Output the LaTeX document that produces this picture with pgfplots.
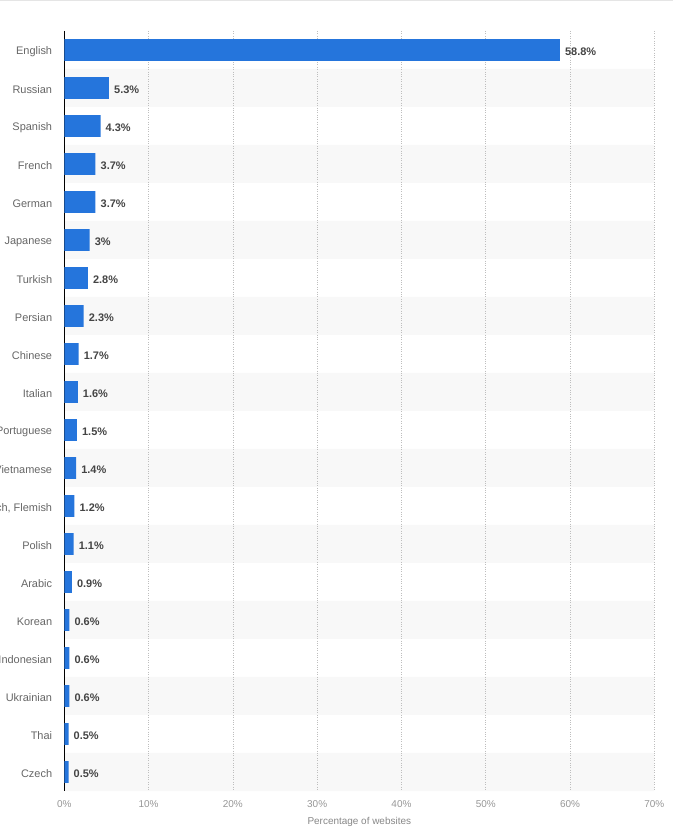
\documentclass[border=0pt]{standalone}
\usepackage{fontspec}
\setmainfont{Liberation Sans}
\usepackage{pgfplots}
\usepackage{pgfplotstable}
\pgfplotsset{compat=1.18}

\definecolor{barblue}{RGB}{37,117,220}
\definecolor{bandgray}{RGB}{248,248,248}
\definecolor{catgray}{RGB}{102,102,102}
\definecolor{valgray}{RGB}{68,68,68}
\definecolor{tickgray}{RGB}{150,150,150}
\definecolor{gridgray}{RGB}{190,190,190}

% share of websites by content language
\pgfplotstableread{
idx val
0 58.8
1 5.3
2 4.3
3 3.7
4 3.7
5 3.0
6 2.8
7 2.3
8 1.7
9 1.6
10 1.5
11 1.4
12 1.2
13 1.1
14 0.9
15 0.6
16 0.6
17 0.6
18 0.5
19 0.5
}\langdata

% alternating row bands
\pgfplotstableread{
idx val
1 70
3 70
5 70
7 70
9 70
11 70
13 70
15 70
17 70
19 70
}\bands

\begin{document}
\begin{tikzpicture}
\begin{axis}[
  set layers,
  scale only axis,
  width=590bp, height=760bp,
  xbar, bar shift=0pt,
  xmin=0, xmax=70,
  ymin=-0.5, ymax=19.5,
  y dir=reverse,
  axis lines=left,
  axis line style={-},
  x axis line style={draw=none},
  y axis line style={draw=black, line width=1.2bp},
  major tick length=0pt,
  xtick={0,10,...,70},
  ytick={0,...,19},
  yticklabels={English,Russian,Spanish,French,German,Japanese,Turkish,Persian,Chinese,Italian,Portuguese,Vietnamese,{Dutch, Flemish},Polish,Arabic,Korean,Indonesian,Ukrainian,Thai,Czech},
  /pgf/number format/assume math mode=true,
  xticklabel={\pgfmathprintnumber{\tick}\%},
  xmajorgrids,
  grid style={gridgray, dotted, line width=0.7bp},
  yticklabel style={font=\fontsize{11}{13}\selectfont, text=catgray, inner sep=0pt, anchor=east, xshift=-12bp, yshift=-2bp},
  xticklabel style={font=\fontsize{10}{12}\selectfont, text=tickgray, inner sep=0pt, anchor=north, yshift=-9.5bp},
  xlabel={Percentage of websites},
  xlabel style={font=\fontsize{10}{12}\selectfont, text=tickgray!90!black, at={(axis description cs:0.5,0)}, anchor=center, yshift=-30.7bp},
]
\addplot[on layer=axis background, fill=bandgray, draw=none, bar width=1] table[x=val, y=idx] {\bands};
\addplot[fill=barblue, draw=none, bar width=0.57,
  point meta=x,
  nodes near coords={\pgfmathprintnumber[fixed, precision=1]{\pgfplotspointmeta}\%},
  every node near coord/.append style={font=\bfseries\fontsize{11}{13}\selectfont, text=valgray, inner sep=0pt, anchor=west, xshift=5bp, yshift=-1.5bp},
] table[x=val, y=idx] {\langdata};
\end{axis}
\pgfresetboundingbox
\path[use as bounding box] (-64.3bp,-48bp) rectangle (608.7bp,791bp);
\draw[black!10, line width=1bp] (-64.3bp,790.5bp) -- (608.7bp,790.5bp);
\end{tikzpicture}
\end{document}
